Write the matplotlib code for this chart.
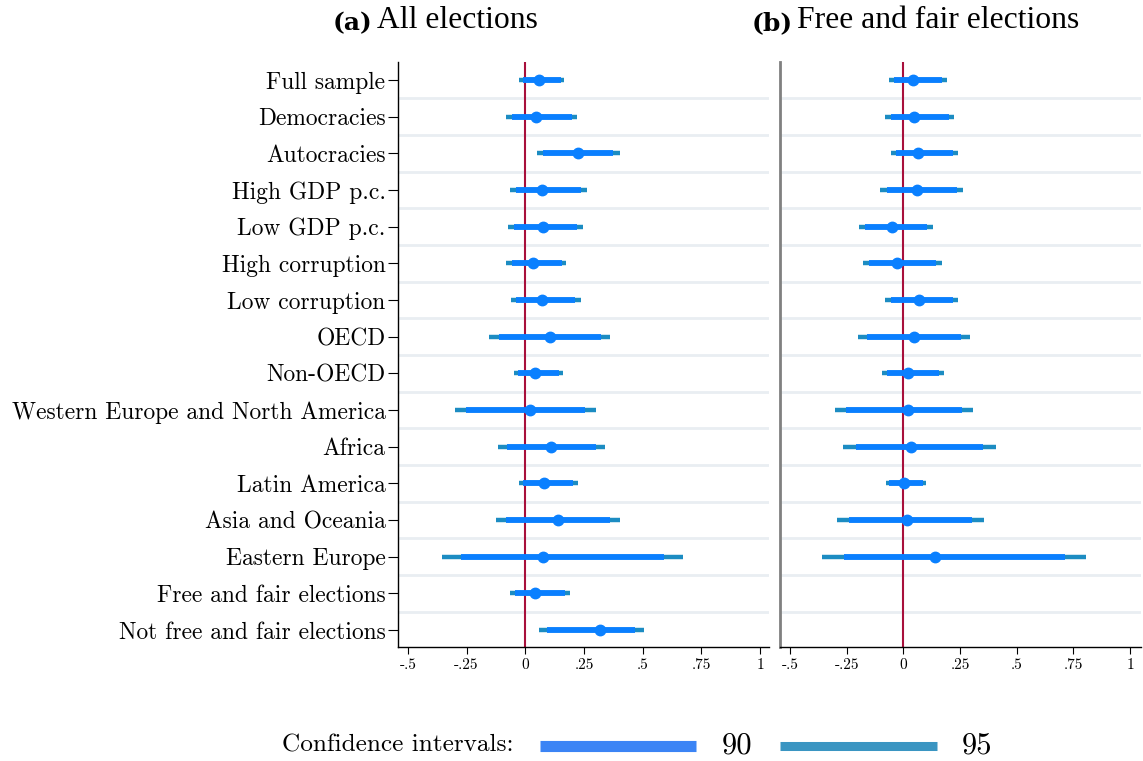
import matplotlib
matplotlib.use("Agg")
import matplotlib.pyplot as plt
from matplotlib.lines import Line2D
import numpy as np

categories = ["Full sample", "Democracies", "Autocracies", "High GDP p.c.", "Low GDP p.c.",
              "High corruption", "Low corruption", "OECD", "Non-OECD",
              "Western Europe and North America", "Africa", "Latin America",
              "Asia and Oceania", "Eastern Europe", "Free and fair elections",
              "Not free and fair elections"]

# Panel (a): all elections
a_est = [0.058, 0.044, 0.224, 0.073, 0.074, 0.034, 0.073, 0.104, 0.043, 0.020, 0.109, 0.078, 0.138, 0.077, 0.041, 0.319]
a_lo90 = [-0.009, -0.057, 0.077, -0.040, -0.048, -0.058, -0.040, -0.113, -0.030, -0.253, -0.079, -0.009, -0.082, -0.274, -0.044, 0.091]
a_hi90 = [0.152, 0.197, 0.375, 0.236, 0.221, 0.155, 0.212, 0.321, 0.144, 0.253, 0.301, 0.204, 0.361, 0.591, 0.169, 0.468]
a_lo95 = [-0.026, -0.082, 0.050, -0.067, -0.074, -0.081, -0.062, -0.155, -0.048, -0.299, -0.116, -0.028, -0.125, -0.355, -0.064, 0.058]
a_hi95 = [0.166, 0.219, 0.402, 0.261, 0.247, 0.173, 0.236, 0.362, 0.159, 0.301, 0.338, 0.226, 0.403, 0.672, 0.189, 0.506]

# Panel (b): free and fair elections (last two rows empty)
b_est = [0.041, 0.047, 0.066, 0.059, -0.049, -0.029, 0.069, 0.049, 0.019, 0.022, 0.034, 0.002, 0.015, 0.140]
b_lo90 = [-0.041, -0.056, -0.032, -0.073, -0.169, -0.150, -0.056, -0.159, -0.073, -0.253, -0.210, -0.063, -0.238, -0.263]
b_hi90 = [0.171, 0.200, 0.219, 0.235, 0.106, 0.144, 0.218, 0.254, 0.157, 0.259, 0.353, 0.085, 0.303, 0.713]
b_lo95 = [-0.063, -0.081, -0.056, -0.103, -0.195, -0.176, -0.081, -0.198, -0.094, -0.301, -0.265, -0.078, -0.291, -0.357]
b_hi95 = [0.191, 0.224, 0.243, 0.265, 0.131, 0.172, 0.243, 0.294, 0.179, 0.309, 0.407, 0.101, 0.354, 0.805]

xticks = [-0.5, -0.25, 0, 0.25, 0.5, 0.75, 1]
xticklabels = ["-.5", "-.25", "0", ".25", ".5", ".75", "1"]

C90 = "#0A7FFF"
C95 = "#1C8CC2"
CPT = "#0A80FF"
CRED = "#A8103C"
CGRID = "#E9EEF2"

W, H = 1143, 761
fig = plt.figure(figsize=(W / 100, H / 100), dpi=100)

ybot = (H - 647) / H
ytop_h = (647 - 62) / H
axA = fig.add_axes([398 / W, ybot, (769 - 398) / W, ytop_h])
axB = fig.add_axes([780 / W, ybot, (1141 - 780) / W, ytop_h])

n = len(categories)
ypos = np.arange(1, n + 1)


def draw(ax, est, lo90, hi90, lo95, hi95, xlim):
    m = len(est)
    yy = ypos[:m]
    for g in np.arange(1.5, n, 1.0):
        ax.axhline(g, color=CGRID, lw=2, zorder=0)
    ax.axvline(0, color=CRED, lw=1.5, zorder=1)
    ax.hlines(yy, lo95, hi95, color=C95, lw=3.2, zorder=2)
    ax.hlines(yy, lo90, hi90, color=C90, lw=4.2, zorder=3)
    ax.plot(est, yy, "o", color=CPT, ms=7.5, zorder=4, mec=CPT)
    ax.set_xlim(*xlim)
    ax.set_ylim(n + 0.46, 0.51)
    ax.set_xticks(xticks)
    ax.set_xticklabels(xticklabels, family="cmr10", fontsize=11)
    ax.tick_params(axis="x", direction="out", length=5, width=0.8, pad=3)
    for s in ["top", "right"]:
        ax.spines[s].set_visible(False)
    ax.spines["bottom"].set_linewidth(1.0)


draw(axA, a_est, a_lo90, a_hi90, a_lo95, a_hi95, (-0.542, 1.038))
draw(axB, b_est, b_lo90, b_hi90, b_lo95, b_hi95, (-0.544, 1.048))

axA.set_yticks(ypos)
axA.set_yticklabels(categories, family="cmr10", fontsize=16.9)
axA.tick_params(axis="y", direction="out", length=7, width=0.8, pad=2)
axA.spines["left"].set_linewidth(1.0)

axB.set_yticks(ypos)
axB.set_yticklabels([])
axB.tick_params(axis="y", length=0)
axB.spines["left"].set_color("#808080")
axB.spines["left"].set_linewidth(2.0)

# Panel titles
def title(x, lab, rest):
    t1 = fig.text(x, (H - 23) / H, lab, family="DejaVu Serif", fontweight="bold",
                  fontsize=18, ha="left", va="center")
    fig.canvas.draw()
    ann = axA.annotate(rest, xy=(1, 0), xycoords=t1, xytext=(3, 0), textcoords="offset points",
                       family="Liberation Serif", fontsize=22.8, ha="left", va="bottom",
                       annotation_clip=False)
    return t1, ann

title(333 / W, "(a)", "All elections")
title(752 / W, "(b)", "Free and fair elections")

# Legend
fig.text(282 / W, (H - 745) / H, "Confidence intervals:", family="cmr10", fontsize=18.2,
         ha="left", va="center")
ly = (H - 746) / H
fig.add_artist(Line2D([540 / W, 696 / W], [ly, ly], color="#3B84F5", lw=8, solid_capstyle="butt"))
fig.text(722 / W, ly, "90", family="cmr10", fontsize=22, ha="left", va="center")
fig.add_artist(Line2D([780 / W, 937 / W], [ly, ly], color="#3A95C2", lw=6.5, solid_capstyle="butt"))
fig.text(962 / W, ly, "95", family="cmr10", fontsize=22, ha="left", va="center")

fig.savefig("out.png", dpi=100)
